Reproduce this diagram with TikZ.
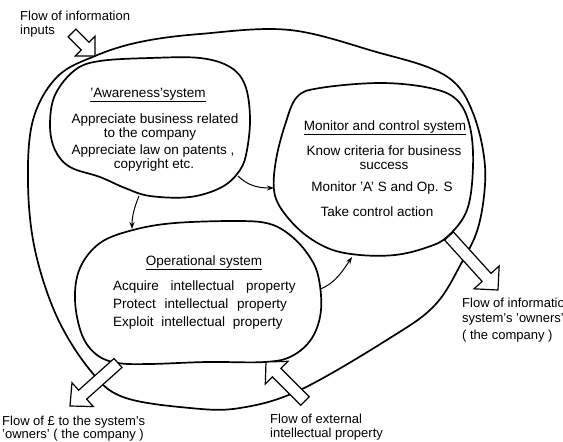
\documentclass[tikz,border=0pt]{standalone}
\usepackage{fontspec}
\setmainfont{Liberation Sans}
\usetikzlibrary{calc,arrows.meta}
\newcommand{\hollowarrow}[5]{%
  \coordinate (ha-b) at ($(#2)!#5!(#1)$);
  \draw[blockarrow] ($(#1)!#3!90:(#2)$) -- ($(ha-b)!#3!90:(#2)$) -- ($(ha-b)!#4!90:(#2)$) -- (#2) -- ($(ha-b)!#4!-90:(#2)$) -- ($(ha-b)!#3!-90:(#2)$) -- ($(#1)!#3!-90:(#2)$) -- cycle;
}
\begin{document}
\begin{tikzpicture}[x=1pt,y=-1pt,
  blob/.style={line width=1.7pt, line join=round},
  outerline/.style={line width=1.7pt},
  blockarrow/.style={line width=1.2pt, fill=white, line join=miter},
  conn/.style={line width=1pt, -{Stealth[length=7pt,width=5pt]}},
  txt/.style={font=\fontsize{13.5}{15}\selectfont, inner sep=0pt},
  ltxt/.style={txt, anchor=west},
  otxt/.style={font=\fontsize{13}{15}\selectfont, inner sep=0pt, anchor=west}]
\useasboundingbox (0,0) rectangle (563,442);
\clip (0,0) rectangle (563,442);
\fill[white] (0,0) rectangle (563,442);

% outer boundary
\draw[outerline] plot[smooth cycle, tension=0.6] coordinates {
 (95,56) (140,42) (200,34) (290,30) (380,53) (430,68) (457,85) (473,113)
 (483,150) (485,185) (478,228) (462,262) (435,305) (390,338) (300,390)
 (240,408) (190,408) (123,397) (90,370) (57,317) (35,250) (28,183) (33,120) (57,77)};

% awareness system
\draw[blob] plot[smooth cycle, tension=0.6] coordinates {
 (55,95) (75,70) (100,61) (150,58) (200,58) (230,67) (245,85) (250,117)
 (247,150) (240,170) (222,187) (190,197) (150,196) (125,188) (100,177)
 (70,167) (55,150) (50,125)};

% monitor and control system
\draw[blob] plot[smooth cycle, tension=0.6] coordinates {
 (297,97) (320,88) (380,83) (430,88) (457,100) (470,127) (473,167)
 (467,210) (447,237) (425,248) (395,255) (360,255) (330,249) (303,233)
 (282,210) (274,190) (276,160) (285,125)};

% operational system
\draw[blob] plot[smooth cycle, tension=0.6] coordinates {
 (133,230) (175,223) (240,221) (270,224) (290,235) (307,253) (318,275)
 (321,310) (312,338) (292,356) (265,362) (207,362) (150,364) (118,363)
 (97,355) (82,335) (75,300) (80,268) (100,243)};

% hollow flow arrows
\coordinate (in-s) at (72,33);   \coordinate (in-e) at (95,56);
\coordinate (inf-s) at (449,236); \coordinate (inf-e) at (498,290);
\coordinate (pd-s) at (118,363);  \coordinate (pd-e) at (70,406);
\coordinate (ip-s) at (305,401);  \coordinate (ip-e) at (266,362);
\hollowarrow{in-s}{in-e}{5.5pt}{14pt}{14pt}
\hollowarrow{inf-s}{inf-e}{6pt}{17pt}{17pt}
\hollowarrow{pd-s}{pd-e}{6pt}{16pt}{17pt}
\hollowarrow{ip-s}{ip-e}{6pt}{16pt}{15pt}

% connectors
\coordinate (aw-s) at (139,196);
\coordinate (op-n) at (132,229);
\coordinate (aw-e) at (238,176);
\coordinate (mo-w) at (274,188);
\coordinate (op-e) at (320,289);
\coordinate (mo-s) at (352,257);
\draw[conn] (aw-s) .. controls +(-5,12) and +(0,-12) .. (op-n);
\draw[conn] (aw-e) .. controls +(10,10) and +(-15,0) .. (mo-w);
\draw[conn] (op-e) .. controls +(15,-5) and +(-8,12) .. (mo-s);

% texts
\node[otxt] (t-in1) at (20,16) {Flow of information};
\node[otxt] (t-in2) at (20,31) {inputs};

\node[txt] (aw-title) at (148,95) {\underline{’Awareness’system}};
\node[txt] (aw-1) at (155,120) {Appreciate business related};
\node[txt] (aw-2) at (150,134) {to the company};
\node[txt] (aw-3) at (153,151) {Appreciate law on patents ,};
\node[txt] (aw-4) at (154,165) {copyright etc.};

\node[txt] (mo-title) at (385,128) {\underline{Monitor and control system}};
\node[txt] (mo-1) at (384,151) {Know criteria for business};
\node[txt] (mo-2) at (384,166) {success};
\node[txt] (mo-3) at (382,188) {Monitor ’A’ S and Op. S};
\node[txt] (mo-4) at (377,212) {Take control action};

\node[txt] (op-title) at (204,263) {\underline{Operational system}};
\node[ltxt] (op-1) at (113,287) {Acquire\hspace{8pt} intellectual\hspace{8pt} property};
\node[ltxt] (op-2) at (113,305) {Protect\hspace{5pt} intellectual\hspace{5pt} property};
\node[ltxt] (op-3) at (113,323) {Exploit\hspace{4pt} intellectual\hspace{4pt} property};

\node[otxt] (t-r1) at (462,303) {Flow of information to the};
\node[otxt] (t-r2) at (462,319) {system’s ’owners’};
\node[otxt] (t-r3) at (462,336) {( the company )};

\node[otxt] (t-bl1) at (2,422) {Flow of £ to the system’s};
\node[otxt] (t-bl2) at (2,435) {’owners’ ( the company )};

\node[otxt] (t-bm1) at (270,419) {Flow of external};
\node[otxt] (t-bm2) at (270,434) {intellectual property};
\end{tikzpicture}
\end{document}
